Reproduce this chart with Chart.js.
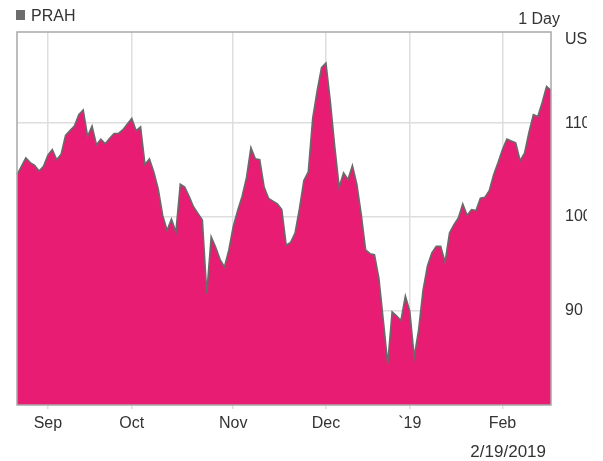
<!DOCTYPE html>
<html>
<head>
<meta charset="utf-8">
<script src="https://cdn.jsdelivr.net/npm/chart.js@4.4.1/dist/chart.umd.min.js"></script>
<style>
  html, body { margin: 0; background: #fff; }
  #wrap { width: 587px; height: 461px; overflow: hidden; }
</style>
</head>
<body>
<div id="wrap"><canvas id="prahChart" width="589" height="461"></canvas></div>
<script>
const symbol = "PRAH";
const period = "1 Day";
const currency = "USD";

// trading days, 8/23/2018 - 2/19/2019
const dates = [
  "8/23/2018", "8/24/2018", "8/27/2018", "8/28/2018", "8/29/2018", "8/30/2018", "8/31/2018",
  "9/4/2018", "9/5/2018", "9/6/2018", "9/7/2018", "9/10/2018", "9/11/2018", "9/12/2018",
  "9/13/2018", "9/14/2018", "9/17/2018", "9/18/2018", "9/19/2018", "9/20/2018", "9/21/2018",
  "9/24/2018", "9/25/2018", "9/26/2018", "9/27/2018", "9/28/2018",
  "10/1/2018", "10/2/2018", "10/3/2018", "10/4/2018", "10/5/2018", "10/8/2018", "10/9/2018",
  "10/10/2018", "10/11/2018", "10/12/2018", "10/15/2018", "10/16/2018", "10/17/2018",
  "10/18/2018", "10/19/2018", "10/22/2018", "10/23/2018", "10/24/2018", "10/25/2018",
  "10/26/2018", "10/29/2018", "10/30/2018", "10/31/2018",
  "11/1/2018", "11/2/2018", "11/5/2018", "11/6/2018", "11/7/2018", "11/8/2018", "11/9/2018",
  "11/12/2018", "11/13/2018", "11/14/2018", "11/15/2018", "11/16/2018", "11/19/2018",
  "11/20/2018", "11/21/2018", "11/23/2018", "11/26/2018", "11/27/2018", "11/28/2018",
  "11/29/2018", "11/30/2018",
  "12/3/2018", "12/4/2018", "12/6/2018", "12/7/2018", "12/10/2018", "12/11/2018", "12/12/2018",
  "12/13/2018", "12/14/2018", "12/17/2018", "12/18/2018", "12/19/2018", "12/20/2018",
  "12/21/2018", "12/24/2018", "12/26/2018", "12/27/2018", "12/28/2018", "12/31/2018",
  "1/2/2019", "1/3/2019", "1/4/2019", "1/7/2019", "1/8/2019", "1/9/2019", "1/10/2019",
  "1/11/2019", "1/14/2019", "1/15/2019", "1/16/2019", "1/17/2019", "1/18/2019", "1/22/2019",
  "1/23/2019", "1/24/2019", "1/25/2019", "1/28/2019", "1/29/2019", "1/30/2019", "1/31/2019",
  "2/1/2019", "2/4/2019", "2/5/2019", "2/6/2019", "2/7/2019", "2/8/2019", "2/11/2019",
  "2/12/2019", "2/13/2019", "2/14/2019", "2/15/2019", "2/19/2019",
];

// closing prices, one per trading day
const prices = [
  104.5, 105.4, 106.3, 105.8, 105.5, 104.9, 105.4, 106.6, 107.2, 106.1,
  106.7, 108.7, 109.2, 109.7, 110.9, 111.4, 108.6, 109.7, 107.7, 108.3,
  107.8, 108.4, 108.9, 108.9, 109.3, 109.9, 110.5, 109.2, 109.6, 105.6,
  106.2, 104.8, 103.0, 100.2, 98.6, 99.8, 98.4, 103.5, 103.2, 102.2,
  101.1, 100.4, 99.7, 91.9, 97.9, 96.8, 95.5, 94.7, 96.5, 99.0,
  100.7, 102.2, 104.2, 107.4, 106.2, 106.1, 103.2, 102.0, 101.7, 101.4,
  100.8, 97.0, 97.3, 98.3, 100.9, 103.9, 104.8, 110.5, 113.4, 115.9,
  116.4, 112.3, 107.5, 103.2, 104.7, 104.0, 105.5, 103.5, 100.3, 96.5,
  96.1, 96.0, 93.5, 89.0, 84.4, 89.9, 89.5, 89.0, 91.6, 90.0,
  85.1, 88.0, 92.2, 94.8, 96.2, 96.9, 96.9, 95.2, 98.3, 99.2,
  99.9, 101.4, 100.2, 100.8, 100.7, 102.0, 102.1, 102.8, 104.5, 105.8,
  107.2, 108.3, 108.1, 107.9, 106.0, 106.8, 109.0, 110.9, 110.7, 112.2,
  113.9, 113.5,
];

const monthLabels = { 9: "Sep", 10: "Oct", 11: "Nov", 12: "Dec", 1: "`19", 2: "Feb" };
const yTicks = [90, 100, 110];
const yMin = 80;
const yMax = 119.7;

const colors = {
  fill: "#e91c73",
  line: "#6a6a6a",
  grid: "#dedede",
  frame: "#a8a8a8",
  text: "#333333",
  marker: "#6d6d6d",
};
const fontFamily = '"Liberation Sans", Arial, sans-serif';

const monthOf = (d) => parseInt(d.split("/")[0], 10);

// label only the first trading day of each month; null also drops the grid line
const monthTick = (i) => {
  if (i === 0 || monthOf(dates[i]) === monthOf(dates[i - 1])) return null;
  return monthLabels[monthOf(dates[i])];
};

const frameAndText = {
  id: "frameAndText",
  afterDatasetsDraw(chart) {
    const { ctx, chartArea } = chart;
    ctx.save();
    ctx.strokeStyle = colors.frame;
    ctx.lineWidth = 1.5;
    ctx.strokeRect(
      chartArea.left,
      chartArea.top,
      chartArea.right - chartArea.left,
      chartArea.bottom - chartArea.top
    );
    ctx.restore();
  },
  afterDraw(chart) {
    const { ctx } = chart;
    ctx.save();
    ctx.fillStyle = colors.marker;
    ctx.fillRect(16, 10, 9, 10);

    ctx.fillStyle = colors.text;
    ctx.font = "16px " + fontFamily;
    ctx.textBaseline = "middle";
    ctx.textAlign = "left";
    ctx.fillText(symbol, 31, 16.5);
    ctx.fillText(currency, 565, 40);
    ctx.textAlign = "right";
    ctx.fillText(period, 560, 20);
    ctx.font = "17px " + fontFamily;
    ctx.fillText(dates[dates.length - 1], 546, 452);
    ctx.restore();
  },
};

const ctx = document.getElementById("prahChart").getContext("2d");
const prahChart = new Chart(ctx, {
  type: "line",
  data: {
    labels: dates,
    datasets: [
      {
        label: symbol,
        data: prices,
        fill: "start",
        backgroundColor: colors.fill,
        borderColor: colors.line,
        borderWidth: 1.6,
        pointRadius: 0,
        tension: 0,
      },
    ],
  },
  options: {
    responsive: false,
    animation: false,
    layout: { padding: { left: 17, top: 32, right: 0, bottom: 0 } },
    plugins: {
      legend: { display: false },
      tooltip: { enabled: false },
    },
    scales: {
      x: {
        border: { display: false },
        grid: { color: colors.grid, lineWidth: 1.5, tickLength: 4 },
        ticks: {
          autoSkip: false,
          maxRotation: 0,
          padding: 5,
          color: colors.text,
          font: { family: fontFamily, size: 16 },
          callback: (value, index) => monthTick(index),
        },
        afterFit: (scale) => {
          scale.height = 56;
        },
      },
      y: {
        position: "right",
        min: yMin,
        max: yMax,
        afterBuildTicks: (scale) => {
          scale.ticks = yTicks.map((v) => ({ value: v }));
        },
        border: { display: false },
        grid: { color: colors.grid, lineWidth: 1.5, drawTicks: false },
        ticks: {
          padding: 14,
          color: colors.text,
          font: { family: fontFamily, size: 16 },
        },
        afterFit: (scale) => {
          scale.width = 38;
        },
      },
    },
  },
  plugins: [frameAndText],
});
</script>
</body>
</html>
